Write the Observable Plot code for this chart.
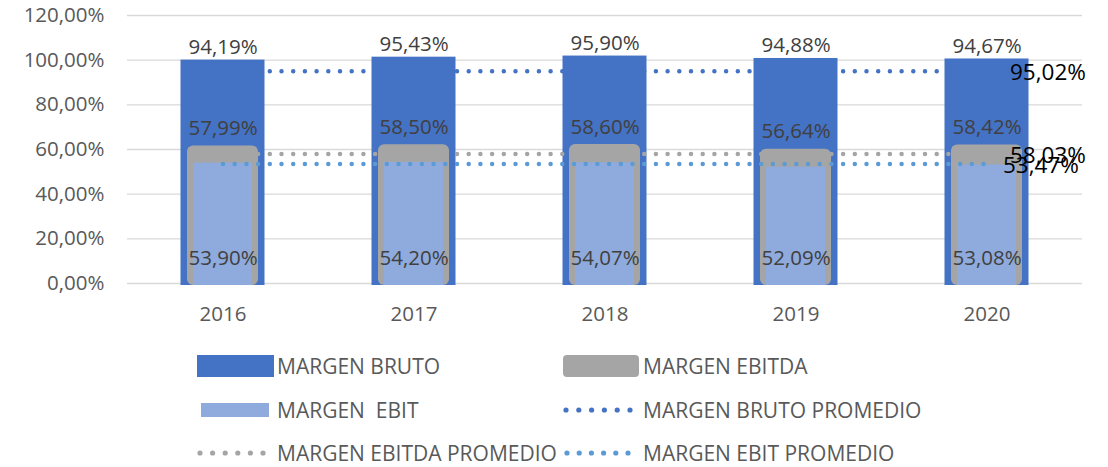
<!DOCTYPE html>
<html><head><meta charset="utf-8">
<script src="https://cdn.jsdelivr.net/npm/d3@7"></script>
<script src="https://cdn.jsdelivr.net/npm/@observablehq/plot@0.6"></script>
<style>
body{margin:0;background:#fff;font-family:"Open Sans",sans-serif;}
#wrap{position:relative;width:1108px;height:467px;overflow:hidden;background:#fff}
#chart{position:absolute;left:0;top:0}
.leg{position:absolute;height:20px;line-height:20px;font-size:21px;color:#595959;white-space:pre;font-family:"Open Sans",sans-serif}
.sw{position:absolute}
</style></head><body>
<div id="wrap"><div id="chart"></div></div>
<script>
// ---- data ----
const years = ["2016", "2017", "2018", "2019", "2020"];
const margenBruto = [94.19, 95.43, 95.90, 94.88, 94.67];
const margenEbitda = [57.99, 58.50, 58.60, 56.64, 58.42];
const margenEbit = [53.90, 54.20, 54.07, 52.09, 53.08];
const promedioBruto = 95.02;
const promedioEbitda = 58.03;
const promedioEbit = 53.47;
const yTicks = [0, 20, 40, 60, 80, 100, 120];
const legendLabels = ["MARGEN BRUTO", "MARGEN EBITDA", "MARGEN  EBIT", "MARGEN BRUTO PROMEDIO", "MARGEN EBITDA PROMEDIO", "MARGEN EBIT PROMEDIO"];

// hidden secondary axis (bruto & ebitda bars are plotted on it)
const primaryMax = 120, secondaryMax = 113;
const sec = v => v * primaryMax / secondaryMax;

const fmt = v => v.toFixed(2).replace(".", ",") + "%";
const rows = years.map((year, i) => ({year, bruto: margenBruto[i], ebitda: margenEbitda[i], ebit: margenEbit[i]}));
const avgRows = (v) => years.map(year => ({year, v}));

const cBruto = "#4472C4", cEbitda = "#A5A5A5", cEbit = "#8FAADC", cEbitLine = "#5B9BD5";
const dotted = {strokeWidth: 4.5, strokeLinecap: "round", strokeDasharray: "0,11.7"};

const chart = Plot.plot({
  width: 1108,
  height: 330,
  marginLeft: 127,
  marginRight: 26,
  marginTop: 15,
  marginBottom: 47,
  style: {fontFamily: "Open Sans, sans-serif", fontSize: "20.5px", color: "#595959", background: "transparent"},
  x: {domain: years, padding: 0, axis: null, label: null},
  y: {domain: [0, primaryMax], axis: null, label: null},
  marks: [
    Plot.ruleY(yTicks, {stroke: "#D9D9D9", strokeWidth: 1.3}),
    Plot.axisY(yTicks, {tickSize: 0, tickPadding: 23, tickFormat: fmt, fontSize: 20.5, label: null}),
    Plot.axisX({tickSize: 0, tickPadding: 23, fontSize: 20.5, label: null}),
    Plot.barY(rows, {x: "year", y: d => sec(d.bruto), fill: cBruto, insetLeft: 53.5, insetRight: 53.5, insetBottom: -2}),
    Plot.lineY(avgRows(promedioBruto), {x: "year", y: "v", stroke: cBruto, ...dotted}),
    Plot.lineY(avgRows(promedioEbitda), {x: "year", y: "v", stroke: cEbitda, ...dotted}),
    Plot.barY(rows, {x: "year", y: d => sec(d.ebitda), fill: cEbitda, insetLeft: 60, insetRight: 60, insetBottom: -2, rx: 6}),
    Plot.barY(rows, {x: "year", y: "ebit", fill: cEbit, insetLeft: 66, insetRight: 66, insetBottom: -2}),
    Plot.lineY(avgRows(promedioEbit), {x: "year", y: "v", stroke: cEbitLine, ...dotted}),
    Plot.text(rows, {x: "year", y: d => sec(d.bruto), text: d => fmt(d.bruto), dy: -13, fill: "#404040", fontSize: 20.5}),
    Plot.text(rows, {x: "year", y: d => sec(d.ebitda), text: d => fmt(d.ebitda), dy: -17.5, fill: "#404040", fontSize: 20.5}),
    Plot.text(rows, {x: "year", y: 0, text: d => fmt(d.ebit), dy: -25, fill: "#404040", fontSize: 20.5}),
    Plot.text([{year: years[4], v: promedioBruto}], {x: "year", y: "v", text: d => fmt(d.v), dx: 23, dy: 2, textAnchor: "start", fill: "#000", fontSize: 22.5}),
    Plot.text([{year: years[4], v: promedioEbitda}], {x: "year", y: "v", text: d => fmt(d.v), dx: 23, dy: 1.5, textAnchor: "start", fill: "#000", fontSize: 22.5}),
    Plot.text([{year: years[4], v: promedioEbit}], {x: "year", y: "v", text: d => fmt(d.v), dx: 16, dy: 1.5, textAnchor: "start", fill: "#000", fontSize: 22.5})
  ]
});
document.getElementById("chart").appendChild(chart);

// ---- legend ----
const wrap = document.getElementById("wrap");
const legendItems = [
  {label: legendLabels[0], kind: "rect", color: cBruto, x0: 197, x1: 274, h: 22, rx: 0, tx: 277, cy: 366},
  {label: legendLabels[1], kind: "rect", color: cEbitda, x0: 563, x1: 639, h: 22, rx: 4, tx: 643, cy: 366},
  {label: legendLabels[2], kind: "rect", color: cEbit, x0: 201, x1: 269, h: 14, rx: 0, tx: 277, cy: 410},
  {label: legendLabels[3], kind: "dots", color: cBruto, x0: 566, x1: 630, tx: 643, cy: 410},
  {label: legendLabels[4], kind: "dots", color: cEbitda, x0: 200, x1: 263, tx: 277, cy: 453},
  {label: legendLabels[5], kind: "dots", color: cEbitLine, x0: 567, x1: 628, tx: 643, cy: 453}
];
const NS = "http://www.w3.org/2000/svg";
for (const it of legendItems) {
  const s = document.createElementNS(NS, "svg");
  s.setAttribute("class", "sw");
  const w = it.x1 - it.x0 + 6, h = 24;
  s.setAttribute("width", w); s.setAttribute("height", h);
  s.style.left = (it.x0 - 3) + "px"; s.style.top = (it.cy - h / 2) + "px";
  if (it.kind === "rect") {
    const r = document.createElementNS(NS, "rect");
    r.setAttribute("x", 3); r.setAttribute("y", (h - it.h) / 2);
    r.setAttribute("width", it.x1 - it.x0); r.setAttribute("height", it.h);
    r.setAttribute("rx", it.rx); r.setAttribute("fill", it.color);
    s.appendChild(r);
  } else {
    for (let k = 0; k < 6; k++) {
      const c = document.createElementNS(NS, "circle");
      c.setAttribute("cx", 3 + k * (it.x1 - it.x0) / 5);
      c.setAttribute("cy", h / 2);
      c.setAttribute("r", 2.6);
      c.setAttribute("fill", it.color);
      s.appendChild(c);
    }
  }
  wrap.appendChild(s);
  const t = document.createElement("div");
  t.className = "leg";
  t.textContent = it.label;
  t.style.left = it.tx + "px";
  t.style.top = (it.cy - 10) + "px";
  wrap.appendChild(t);
}
</script>
</body></html>
